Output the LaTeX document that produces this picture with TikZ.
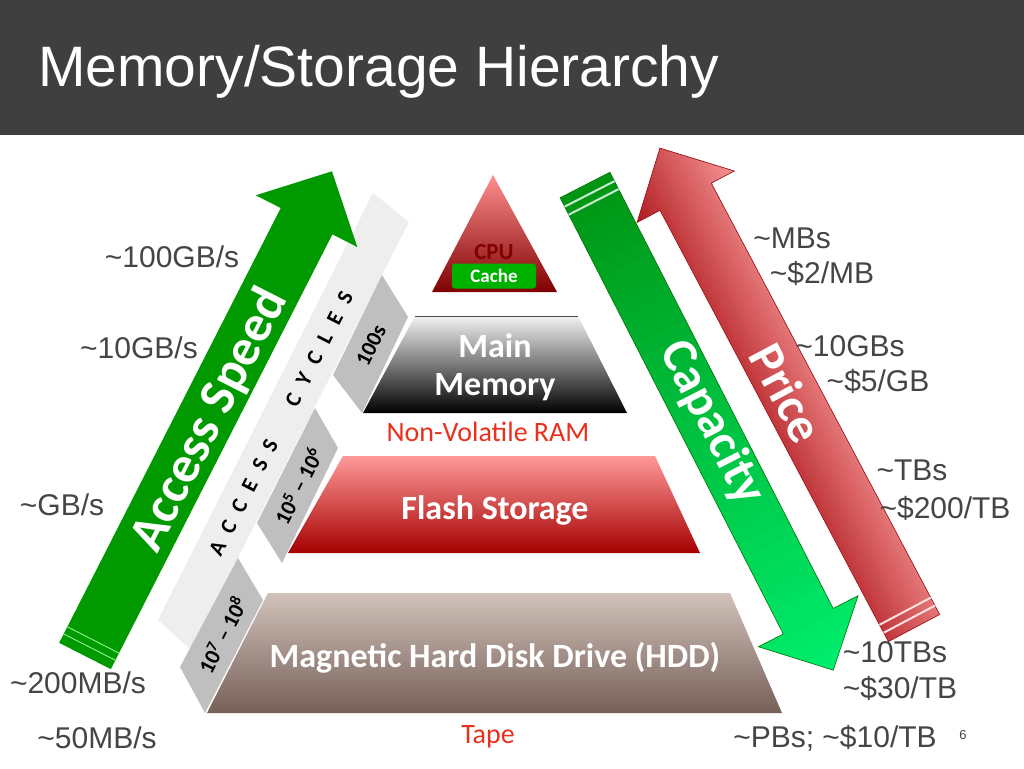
\documentclass[tikz,border=0pt]{standalone}
\usepackage{fontspec}
\setmainfont{Liberation Sans}
\newfontfamily\carl{Carlito}
\begin{document}
\begin{tikzpicture}[x=1pt,y=-1pt,
 lab/.style={text=labgray,font=\fontsize{30}{32}\selectfont,inner sep=0pt},
 tier/.style={text=white,font=\carl\bfseries\fontsize{34}{38}\selectfont,inner sep=0pt},
 tabtxt/.style={font=\carl\bfseries\fontsize{22}{24}\selectfont,inner sep=0pt,rotate=63},
 redtxt/.style={text=nvred,font=\carl\fontsize{28}{30}\selectfont,inner sep=0pt}]
\definecolor{hdr}{HTML}{3F3F3F}
\definecolor{labgray}{HTML}{454545}
\definecolor{nvred}{HTML}{E8301C}
\definecolor{gr}{HTML}{009A00}
\definecolor{band}{HTML}{EEEEEE}
\definecolor{tabg}{HTML}{BFBFBF}
\definecolor{capA}{RGB}{0,150,20}
\definecolor{capB}{RGB}{0,238,110}
\definecolor{prA}{RGB}{244,145,145}
\definecolor{prB}{RGB}{175,25,30}
\useasboundingbox (0,0) rectangle (1024,768);
\fill[white] (0,0) rectangle (1024,768);
\fill[hdr] (0,0) rectangle (1024,135);
\node[anchor=west,text=white,font=\fontsize{57}{60}\selectfont,inner sep=0pt] (title) at (38,72) {Memory/Storage Hierarchy};

% band and tabs
\fill[band] (373,193) -- (409,222) -- (191,650) -- (158,620) -- cycle;
\fill[tabg] (382,275) -- (408,317) -- (362,413) -- (333,375) -- cycle;
\fill[tabg] (315,408) -- (338,448) -- (282,563) -- (257,523) -- cycle;
\fill[tabg] (238,558) -- (263,600) -- (205,713) -- (180,667) -- cycle;
\node[tabtxt] (t1) at (371,345) {100s};
\node[tabtxt] (t2) at (298,486) {10\textsuperscript{5} \textendash\ 10\textsuperscript{6}};
\node[tabtxt] (t3) at (222,635) {10\textsuperscript{7} \textendash\ 10\textsuperscript{8}};
\node[font=\carl\bfseries\fontsize{22}{24}\selectfont,rotate=63,inner sep=0pt] (ac) at (281,424)
 {A\hspace{12pt}C\hspace{12pt}C\hspace{12pt}E\hspace{12pt}S\hspace{12pt}S\hspace{40pt}C\hspace{12pt}Y\hspace{12pt}C\hspace{12pt}L\hspace{12pt}E\hspace{12pt}S};

% tiers
\shade[top color=red!25!pink, bottom color=red!50!black] (493,175) -- (557,292) -- (432,292) -- cycle;
\node[text=red!50!black,font=\carl\bfseries\fontsize{23}{24}\selectfont,inner sep=0pt] (cpu) at (494,252) {CPU};
\node[fill=green!70!black,rounded corners=3pt,text=white,font=\carl\bfseries\fontsize{19}{20}\selectfont,minimum width=84pt,minimum height=25pt,inner sep=0pt] (cache) at (494,276) {Cache};
\shade[top color=black!5, bottom color=black] (415,316) -- (578,316) -- (627,413) -- (363,413) -- cycle;
\draw[black!70,line width=1pt] (415,316) -- (578,316);
\node[tier] (mm1) at (495,346) {Main};
\node[tier] (mm2) at (495,387) {Memory};
\node[redtxt] (nv) at (488,432) {Non-Volatile RAM};
\shade[top color=red!40!white, bottom color=red!65!black] (343,456) -- (655,456) -- (700,553) -- (288,553) -- cycle;
\node[tier] (fl) at (495,510) {Flash Storage};
\shade[top color={rgb,255:red,208;green,194;blue,186}, bottom color={rgb,255:red,118;green,96;blue,88}] (268,593) -- (730,593) -- (782,713) -- (207,713) -- cycle;
\node[tier] (hdd) at (495,658) {Magnetic Hard Disk Drive (HDD)};
\node[redtxt] (tape) at (488,737) {Tape};

% Access speed arrow
\begin{scope}[shift={(85,656)},rotate=63.0,y=1pt]
 \fill[gr] (0,-29) -- (488,-29) -- (488,-57) -- (544,0) -- (488,57) -- (488,29) -- (0,29) -- cycle;
 \draw[green!40!white,line width=0.8pt] (10,-29) -- (10,29) (18,-29) -- (18,29);
\end{scope}
\node[text=white,font=\carl\bfseries\fontsize{52}{54}\selectfont,rotate=63,inner sep=0pt] (as) at (210,420) {Access Speed};

% Capacity arrow
\begin{scope}[shift={(585,185)},rotate=-62.9,y=1pt]
 \begin{scope}
 \clip (0,-28) -- (490,-28) -- (490,-56) -- (545,0) -- (490,56) -- (490,28) -- (0,28) -- cycle;
 \foreach \i in {0,...,36} {
   \pgfmathsetmacro{\p}{100-\i*100/36}
   \fill[capA!\p!capB] (\i*15,-60) rectangle (\i*15+16,60);
 }
 \end{scope}
 \draw[green!45!black, line width=0.6pt] (0,-28) -- (490,-28) -- (490,-56) -- (545,0) -- (490,56) -- (490,28) -- (0,28) -- cycle;
 \draw[green!15!white!85!gray,line width=2pt] (10,-28) -- (10,28) (19,-28) -- (19,28);
\end{scope}
\node[text=white,font=\carl\bfseries\fontsize{50}{52}\selectfont,rotate=-62.9,inner sep=0pt] (cap) at (712,423) {Capacity};

% Price arrow
\begin{scope}[shift={(914,628)},rotate=117.9,y=1pt]
 \begin{scope}
 \clip (0,-29) -- (488,-29) -- (488,-55) -- (543,0) -- (488,55) -- (488,29) -- (0,29) -- cycle;
 \foreach \i in {0,...,22} {
   \pgfmathsetmacro{\p}{100-\i*100/22}
   \fill[prA!\p!prB] (-5,-56+\i*5) rectangle (550,-50+\i*5);
 }
 \end{scope}
 \draw[prB!90!black, line width=0.7pt] (0,-29) -- (488,-29) -- (488,-55) -- (543,0) -- (488,55) -- (488,29) -- (0,29) -- cycle;
 \draw[red!12!white,line width=2pt] (10,-29) -- (10,29) (19,-29) -- (19,29);
\end{scope}
\node[text=white,font=\carl\bfseries\fontsize{50}{52}\selectfont,rotate=-62.1,inner sep=0pt] (pr) at (787,393) {Price};

% left labels
\node[lab] (l1) at (172,257) {\textasciitilde 100GB/s};
\node[lab] (l2) at (139,348) {\textasciitilde 10GB/s};
\node[lab] (l3) at (62,505) {\textasciitilde GB/s};
\node[lab] (l4) at (78,683) {\textasciitilde 200MB/s};
\node[lab] (l5) at (97,738) {\textasciitilde 50MB/s};
% right labels
\node[lab] (r1) at (792,238) {\textasciitilde MBs};
\node[lab] (r2) at (822,273) {\textasciitilde\$2/MB};
\node[lab] (r3) at (850,346) {\textasciitilde 10GBs};
\node[lab] (r4) at (878,381) {\textasciitilde\$5/GB};
\node[lab] (r5) at (912,470) {\textasciitilde TBs};
\node[lab] (r6) at (945,508) {\textasciitilde\$200/TB};
\node[lab] (r7) at (895,652) {\textasciitilde 10TBs};
\node[lab] (r8) at (900,688) {\textasciitilde\$30/TB};
\node[lab] (r9) at (835,738) {\textasciitilde PBs; \textasciitilde\$10/TB};
\node[text=labgray,font=\fontsize{13}{14}\selectfont,inner sep=0pt] (pg) at (963,735) {6};
\end{tikzpicture}
\end{document}
